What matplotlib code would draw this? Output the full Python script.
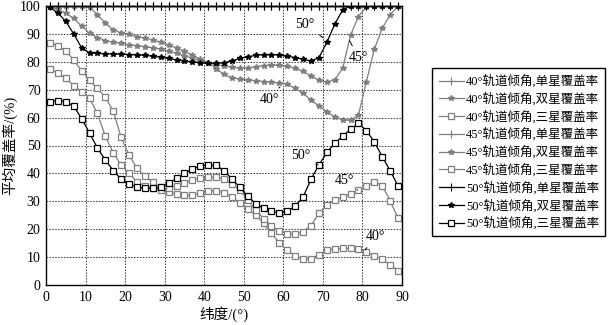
import numpy as np
import matplotlib
matplotlib.use('Agg')
import matplotlib.pyplot as plt

plt.rcParams['font.family'] = ['Liberation Serif', 'Noto Sans CJK SC', 'DejaVu Sans']
plt.rcParams['axes.unicode_minus'] = False

# latitude samples (deg)
lat = np.arange(1, 90, 2)

# single coverage is 100% for all three inclinations
single_40 = [100] * len(lat)
single_45 = [100] * len(lat)
single_50 = [100] * len(lat)

double_40 = [100, 100, 100, 100, 100, 99.8, 96.8, 94.0, 91.4, 90.4,
             89.9, 89.0, 88.5, 87.8, 87.0, 86.0, 85.0, 83.8, 82.4, 81.0,
             79.7, 77.5, 75.5, 74.3, 73.8, 73.5, 73.2, 72.9, 72.7, 72.4,
             71.9, 70.5, 68.7, 66.3, 64.2, 62.1, 60.3, 59.2, 59.0, 61.0,
             72.9, 84.5, 92.0, 96.8, 100]
double_45 = [99.5, 98.8, 97.4, 95.6, 92.8, 90.2, 88.7, 87.6, 87.0, 86.6,
             86.1, 85.8, 85.4, 85.0, 84.5, 83.8, 83.0, 82.2, 81.3, 80.4,
             79.6, 79.0, 78.5, 78.0, 77.7, 77.8, 78.2, 78.6, 78.8, 78.7,
             78.4, 77.7, 76.6, 75.0, 73.3, 72.7, 73.5, 77.7, 89.6, 96.2,
             99.8, 100, 100, 100, 100]
double_50 = [99.5, 97.5, 94.5, 90.0, 85.0, 83.2, 83.0, 82.9, 82.8, 82.7,
             82.6, 82.5, 82.3, 82.0, 81.6, 81.2, 80.7, 80.3, 80.0, 79.7,
             79.4, 79.4, 79.7, 80.3, 81.2, 81.8, 82.3, 82.6, 82.6, 82.4,
             82.0, 81.5, 80.9, 80.3, 81.5, 87.0, 93.5, 98.6, 100, 100,
             100, 100, 100, 100, 100]

triple_40 = [86.6, 85.8, 84.0, 80.6, 76.8, 73.3, 70.5, 67.3, 62.4, 52.9,
             46.6, 41.8, 39.1, 36.8, 35.0, 33.5, 32.5, 32.1, 32.1, 33.0,
             33.7, 33.8, 33.1, 31.6, 29.3, 27.1, 25.2, 22.1, 18.5, 15.2,
             12.5, 10.4, 9.3, 9.3, 10.9, 12.5, 13.0, 13.1, 13.1, 12.8,
             11.8, 10.4, 9.2, 7.2, 5.1]
triple_45 = [77.3, 75.9, 74.1, 71.5, 69.3, 67.0, 61.5, 53.3, 47.3, 43.0,
             40.0, 37.0, 35.5, 34.6, 34.2, 34.6, 35.5, 36.7, 37.6, 38.2,
             38.6, 38.6, 38.0, 36.2, 34.0, 30.5, 27.0, 23.8, 21.2, 19.4,
             18.4, 18.2, 19.1, 21.3, 25.7, 28.8, 30.5, 31.5, 32.7, 34.0,
             35.4, 37.0, 35.6, 30.2, 23.9]
triple_50 = [65.7, 66.1, 65.7, 64.2, 59.6, 54.5, 49.1, 44.8, 41.0, 38.0,
             36.1, 35.2, 34.7, 34.6, 35.0, 36.5, 38.2, 40.0, 41.5, 42.7,
             43.0, 42.9, 41.0, 38.0, 35.0, 31.8, 29.2, 27.5, 26.4, 25.9,
             26.4, 28.3, 31.6, 37.9, 43.0, 47.5, 50.8, 53.4, 55.8, 58.0,
             55.3, 51.3, 46.0, 41.0, 35.5]

gray = '#7f7f7f'
series = [
    (single_40, gray, '+', '40°轨道倾角,单星覆盖率'),
    (double_40, gray, '*', '40°轨道倾角,双星覆盖率'),
    (triple_40, gray, 's', '40°轨道倾角,三星覆盖率'),
    (single_45, gray, '+', '45°轨道倾角,单星覆盖率'),
    (double_45, gray, '*', '45°轨道倾角,双星覆盖率'),
    (triple_45, gray, 's', '45°轨道倾角,三星覆盖率'),
    (single_50, 'black', '+', '50°轨道倾角,单星覆盖率'),
    (double_50, 'black', '*', '50°轨道倾角,双星覆盖率'),
    (triple_50, 'black', 's', '50°轨道倾角,三星覆盖率'),
]

fig = plt.figure(figsize=(6.09, 3.25), dpi=100)
ax = fig.add_axes([46 / 609, 40 / 325, 356 / 609, 279 / 325])

for vals, c, m, lab in series:
    if m == 's':
        ax.plot(lat, vals, color=c, lw=0.9, marker='s', ms=4.8, mfc='white',
                mec=c, mew=0.9, label=lab)
    elif m == '*':
        ax.plot(lat, vals, color=c, lw=0.9, marker='*', ms=4, mec=c, mfc=c, label=lab)
    else:
        ax.plot(lat, vals, color=c, lw=0.9, marker='+', ms=6, mew=0.8,
                label=lab, clip_on=False)

ax.set_xlim(0, 90)
ax.set_ylim(0, 100)
ax.set_xticks(range(0, 91, 10))
ax.set_yticks(range(0, 101, 10))
ax.tick_params(length=0, labelsize=10, pad=4)
ax.grid(True, linestyle=(0, (1.5, 1.5)), color='#333333', lw=0.7)
for s in ax.spines.values():
    s.set_linewidth(1.0)

ax.set_xlabel('纬度/(°)', fontsize=10.5, labelpad=2)
ax.set_ylabel('平均覆盖率/(%)', fontsize=10.5, labelpad=2)

# curve labels
arrow = dict(arrowstyle='-', color='black', lw=0.7)
ax.annotate('50°', xy=(70.6, 88), xytext=(65.5, 93.5), fontsize=10, ha='center', va='center', arrowprops=arrow)
ax.annotate('45°', xy=(76.4, 88.5), xytext=(79, 81.5), fontsize=10, ha='center', va='center', arrowprops=arrow)
ax.annotate('40°', xy=(59.6, 71.8), xytext=(56.5, 66.5), fontsize=10, ha='center', va='center', arrowprops=arrow)
ax.annotate('50°', xy=(68.8, 43), xytext=(64.5, 46.3), fontsize=10, ha='center', va='center', arrowprops=arrow)
ax.annotate('45°', xy=(78.8, 34), xytext=(75.5, 37.5), fontsize=10, ha='center', va='center', arrowprops=arrow)
ax.annotate('40°', xy=(80.7, 12.6), xytext=(83.3, 17.5), fontsize=10, ha='center', va='center', arrowprops=arrow)

leg = fig.legend(loc='upper left', bbox_to_anchor=(426 / 609, 1 - 62 / 325),
                 fontsize=9, handlelength=2.0, handletextpad=0.2,
                 labelspacing=0.35, borderpad=0.5, fancybox=False,
                 edgecolor='black', framealpha=1)
leg.get_frame().set_linewidth(1.0)

fig.savefig('out.png', dpi=100)
